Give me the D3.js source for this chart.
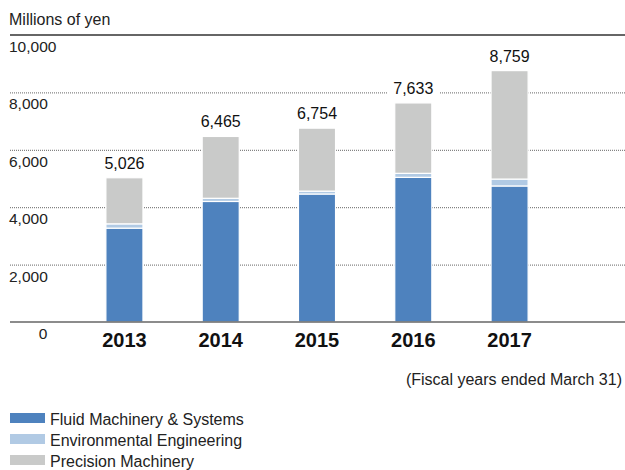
<!DOCTYPE html>
<html>
<head>
<meta charset="utf-8">
<script src="https://cdn.jsdelivr.net/npm/d3@7"></script>
<style>
  body { margin: 0; background: #fff; }
  text { font-family: 'Liberation Sans', Arial, sans-serif; }
</style>
</head>
<body>
<div class="chart"></div>
<script>
const years = ['2013', '2014', '2015', '2016', '2017'];
const fluid = [3270, 4200, 4460, 5040, 4740];
const environmental = [150, 110, 100, 140, 240];
const precision = [1606, 2155, 2194, 2453, 3779];
const totals = [5026, 6465, 6754, 7633, 8759];
const y_ticks = [0, 2000, 4000, 6000, 8000, 10000];
const series_names = ['Fluid Machinery & Systems', 'Environmental Engineering', 'Precision Machinery'];
const colors = ['#4e82be', '#b1cae4', '#c9cac9'];

const width = 625, height = 470;
let padding = {'left': 10, 'right': 0, 'top': 35, 'bottom': 148};

let svg = d3.select('.chart')
    .append('svg')
    .attr('width', width)
    .attr('height', height);

let x = d3.scaleBand()
    .domain(years)
    .range([77, 557])
    .paddingInner(0.615)
    .paddingOuter(0.3);

let y = d3.scaleLinear()
    .domain([0, 10000])
    .range([height - padding.bottom, padding.top]);

// unit label
svg.append('text')
    .attr('x', 9)
    .attr('y', 25)
    .attr('font-size', '16px')
    .attr('fill', '#222')
    .text('Millions of yen');

// gridlines (dotted) for middle ticks
svg.append('g')
    .selectAll('line')
    .data(y_ticks.filter(d => d > 0 && d < 10000))
    .enter().append('line')
    .attr('x1', padding.left)
    .attr('x2', width)
    .attr('y1', d => y(d) + 0.5)
    .attr('y2', d => y(d) + 0.5)
    .attr('stroke', '#666')
    .attr('stroke-width', 1)
    .attr('stroke-dasharray', '1,1');

// top solid line
svg.append('line')
    .attr('x1', padding.left).attr('x2', width)
    .attr('y1', y(10000)).attr('y2', y(10000))
    .attr('stroke', '#333')
    .attr('stroke-width', 1.6);

// tick labels
svg.append('g')
    .selectAll('text')
    .data(y_ticks)
    .enter().append('text')
    .attr('x', d => d === 0 ? 43 : 9)
    .attr('y', d => y(d) + 17)
    .attr('text-anchor', d => d === 0 ? 'middle' : 'start')
    .attr('font-size', '15.5px')
    .attr('fill', '#222')
    .text(d => d3.format(',')(d));

// stacked bars
let table = years.map((yr, i) => ({'year': yr, 'fluid': fluid[i], 'env': environmental[i], 'prec': precision[i]}));
let stack = d3.stack().keys(['fluid', 'env', 'prec'])(table);

svg.append('g')
    .selectAll('g')
    .data(stack)
    .enter().append('g')
    .attr('fill', (d, i) => colors[i])
    .selectAll('rect')
    .data(d => d)
    .enter().append('rect')
    .attr('x', d => x(d.data.year))
    .attr('width', x.bandwidth())
    .attr('y', d => y(d[1]))
    .attr('height', d => y(d[0]) - y(d[1]))
    .attr('stroke', '#fff')
    .attr('stroke-width', 1.2);

// value labels with white background
let labels = svg.append('g')
    .selectAll('g')
    .data(years)
    .enter().append('g')
    .attr('transform', (d, i) => `translate(${x(d) + x.bandwidth() / 2}, ${y(totals[i]) - 9})`);
labels.append('rect')
    .attr('x', -26).attr('y', -16)
    .attr('width', 52).attr('height', 20)
    .attr('fill', '#fff');
labels.append('text')
    .attr('text-anchor', 'middle')
    .attr('font-size', '16px')
    .attr('fill', '#111')
    .text((d, i) => d3.format(',')(totals[i]));

// baseline
svg.append('line')
    .attr('x1', padding.left).attr('x2', width)
    .attr('y1', y(0)).attr('y2', y(0))
    .attr('stroke', '#666')
    .attr('stroke-width', 1.3);

// year labels
svg.append('g')
    .selectAll('text')
    .data(years)
    .enter().append('text')
    .attr('x', d => x(d) + x.bandwidth() / 2)
    .attr('y', y(0) + 25)
    .attr('text-anchor', 'middle')
    .attr('font-size', '20px')
    .attr('font-weight', 'bold')
    .attr('fill', '#111')
    .text(d => d);

svg.append('text')
    .attr('x', 622)
    .attr('y', 385)
    .attr('text-anchor', 'end')
    .attr('font-size', '16px')
    .attr('fill', '#222')
    .text('(Fiscal years ended March 31)');

// legend
let legend = svg.append('g')
    .selectAll('g')
    .data(series_names)
    .enter().append('g')
    .attr('transform', (d, i) => `translate(10, ${413 + i * 21})`);
legend.append('rect')
    .attr('width', 35).attr('height', 10)
    .attr('fill', (d, i) => colors[i]);
legend.append('text')
    .attr('x', 40).attr('y', 12)
    .attr('font-size', '16px')
    .attr('fill', '#222')
    .text(d => d);
</script>
</body>
</html>
